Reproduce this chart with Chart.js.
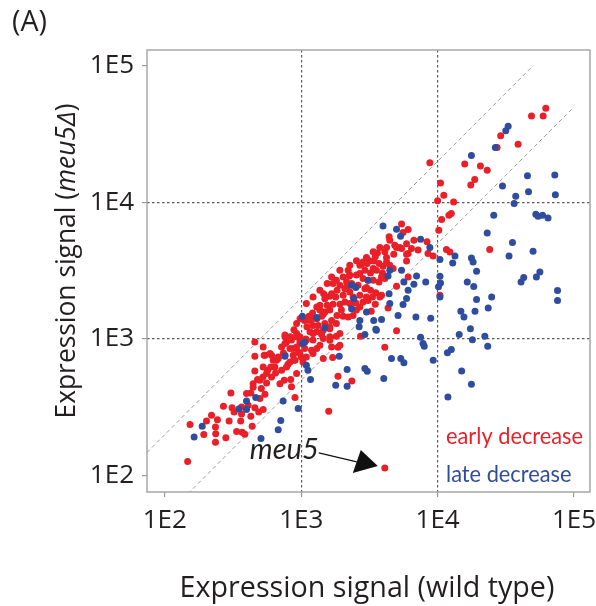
<!DOCTYPE html>
<html>
<head>
<meta charset="utf-8">
<script src="https://cdn.jsdelivr.net/npm/chart.js@4.4.0/dist/chart.umd.min.js"></script>
<style>
  html, body { margin: 0; padding: 0; background: #fff; }
  #wrap { width: 596px; height: 606px; position: relative; }
</style>
</head>
<body>
<div id="wrap"><canvas id="scatterChart"></canvas></div>
<script>
  // expression signal pairs: [wild type, meu5 delta]
  const earlyDecrease = [
    [147,127],[153,237],[202,251],[220,277],[193,200],[243,257],[236,203],[235,176],[280,190],[296,251],
    [305,403],[269,322],[311,315],[322,293],[336,211],[369,208],[386,201],[360,251],[365,283],[427,272],
    [437,230],[457,315],[488,293],[526,305],[427,403],[444,472],[498,367],[542,394],[510,434],[478,506],
    [524,528],[557,477],[457,585],[567,592],[606,528],[598,624],[648,565],[698,472],[718,592],[750,500],
    [837,506],[800,654],[678,720],[606,763],[535,763],[457,750],[526,876],[457,952],[718,876],[760,927],
    [848,983],[874,854],[925,1100],[977,952],[950,805],[900,700],[1000,740],[848,447],[235,227],[365,318],
    [408,328],[542,763],
    [1590,296],[1860,535],[2350,494],[4100,870],[1860,870],[1450,720],[1700,734],[2720,1050],[5000,1150],[900,373],
    [780,952],[827,854],[925,876],[1005,927],[1060,854],[977,785],[874,763],[760,763],[678,740],[623,700],
    [590,785],[526,624],[641,624],[827,680],[1030,680],[1090,740],[1190,830],[1300,854],[1370,900],[1220,983],
    [1450,1010],[1620,1040],[760,1040],[977,1040],
    [3620,4270],[4220,3960],[4770,4180],[4850,4870],[3400,3730],[3720,3580],[3980,3420],[4460,3470],[3040,3580],[2770,3530],
    [2930,3190],[3220,3050],[3560,3190],[3940,3050],[4100,2780],[3720,2620],[3370,2700],[3090,2700],[2840,2780],[2540,2940],
    [2250,2890],[2150,2620],[2340,2550],[2610,2480],[2930,2340],[3220,2280],[3520,2180],[3880,2090],[3330,2030],[3010,2030],
    [2690,2090],[2270,2210],[2090,2340],[2030,2090],[1920,2480],[1710,2550],[1830,2280],[1790,2030],[1620,2060],[1510,2030],
    [1550,1770],[1710,1800],[1920,1800],[2090,1870],[2270,1820],[2510,1840],[2690,1720],[2840,1870],[3090,1920],[1970,1630],
    [1830,1490],[2030,1470],[2210,1450],[2400,1490],[2540,1630],[1620,1630],[1490,1580],[1370,1630],[1410,1470],[1300,1410],
    [1190,1410],[1220,1260],[1330,1260],[1490,1300],[1670,1370],[1810,1300],[1620,1190],[1450,1160],[1300,1130],[1160,1130],
    [1100,1230],[1060,1370],[1140,1470],[1210,1550],[1550,2550],[1460,2150],[1080,1000],
    [8770,19500],[10500,13900],[11100,11300],[10000,10300],[13100,10100],[12600,8300],[12100,8070],[10700,7500],[10200,6260],[5440,6950],
    [6080,6350],[4410,5600],[5280,4680],[6700,5300],[6430,4610],[6080,4230],[7190,4480],[8360,5150],[8500,4230],[11600,4520],
    [12300,4340],[2690,3470],[3370,3290],[2690,3020],[2270,2940],
    [62100,48900],[48800,42900],[59400,42900],[29000,30800],[27300,25300],[38900,26700],[15800,19100],[20600,18500],[23100,17200],[18700,14700],
    [17500,13400],[24100,4520],[9270,4050],[10400,2090],[5920,3730],[6080,2850],
    [5440,4610],[5920,4180],[4100,4350],[4220,3670],[4720,3290],[3880,2850],[5000,2440],[4330,1690],[3770,2030],
    [1410,1080],[1670,875],[925,1300],[980,1410],[885,1170],[760,1070],[2840,3670],[1670,2150],[1490,1970],[1370,1770],
    [1160,1370],[1920,900],[1810,1050],
    [2030,2850],[2210,3190],[3160,3750],[3490,4000],[3010,2390],[3490,1800],[3260,1600],[1620,1230],[1220,1100],[1090,980],
    [740,790],[660,700],[557,560],[498,500],[444,445],[397,400],[780,624],[880,700],[925,560],[1220,785],
    [830,1040],[925,1040],[1920,1100],[1620,980],[1450,1520],[1300,1720],[2400,2030],[1810,2700],[2150,2390],[4220,4690],
    [5000,4690],[5920,4980],[5580,6020],[4460,5300],[3770,4690],[3370,4350],[3010,3960],[2540,3750],[2270,3470],[1920,3190],
    [1670,2850],[1370,2280],[1220,2030],[1090,1820]
  ];
  const lateDecrease = [
    [188,230],[164,192],[349,308],[397,305],[397,352],[464,373],[760,750],[1030,927],[737,352],[708,254],
    [678,217],[507,187],[950,310],[1170,506],[1790,459],[2170,451],[4030,514],[11900,377],[17700,467],[15000,585],
    [4590,720],[5370,720],[5660,670],[7500,1030],[7820,930],[7980,885],[9280,700],[11800,794],[1900,750],[2170,598],
    [2930,609],[3050,581],[1090,644],[1120,592],[2930,1080],[3560,1160],[1020,1470],[1300,1440],[1490,1210],[2340,2480],
    [2510,2390],[2430,1980],[2340,1670],[2690,1370],[3090,2700],[3010,1580],[3400,1370],[3520,1180],[3880,1390],[4460,3190],
    [4410,2150],[4460,1820],[5130,1490],[1060,950],[3980,6740],[5000,6380],[5350,5670],[7500,5370],[8770,4680],[10400,3820],
    [13400,4050],[12900,3610],[5440,3190],[4330,2890],[7010,2890],[10400,2880],[32900,36200],[31600,33500],[26500,25300],[17700,22100],
    [29900,13200],[45600,15700],[72300,15900],[46400,12000],[73000,11400],[37400,11100],[36400,9830],[25800,8070],[52500,8210],[54500,7940],
    [58800,8070],[64500,7710],[23100,5980],[35400,5090],[50100,4400],[33400,4060],[17700,3930],[18200,3660],[19300,3140],[16500,2620],
    [18400,2430],[19300,1950],[24900,2030],[23500,1690],[18800,1600],[14800,1600],[15600,1450],[42800,2820],[40900,2620],[56200,3100],
    [53000,2850],[75700,2270],[75700,1920],[10500,2570],[10150,2420],[10400,2030],[8180,2620],[6700,2520],[6080,2280],[5920,1980],
    [5580,1790],[5660,2620],[6930,1450],[8900,1420],[17400,1190],[14400,1080],[18000,990],[22200,1050],[23300,885],[12600,838],
    [2660,1230]
  ];
  const meu5Gene = [4100, 114];

  // twofold guide lines
  const upperGuide = [[74,148],[50000,100000]];
  const lowerGuide = [[148,74],[100000,50000]];

  const tickValues = [100, 1000, 10000, 100000];
  const tickLabels = ['1E2', '1E3', '1E4', '1E5'];
  const seriesNames = ['early decrease', 'late decrease'];

  const red = '#ea1f27';
  const blue = '#2f4d9e';
  const textColor = '#231f20';
  const fontFamily = '"Open Sans", "Noto Sans", sans-serif';
  const labelFamily = 'Lato, "Open Sans", sans-serif';

  const toPoints = arr => arr.map(p => ({x: p[0], y: p[1]}));

  // only the inner decades get the dotted grid
  const gridColor = ctx => {
    const v = ctx.tick ? ctx.tick.value : null;
    return (v === 1000 || v === 10000) ? '#5a5a5a' : 'rgba(0,0,0,0)';
  };

  // font size that makes text span a given width
  function fitFont(ctx, text, style, family, width) {
    ctx.font = style + ' 100px ' + family;
    const size = 100 * width / ctx.measureText(text).width;
    return style + ' ' + size.toFixed(2) + 'px ' + family;
  }

  // narrow text: keep the font size, squeeze horizontally by k
  function drawSqueezed(ctx, text, x, y, k, align) {
    ctx.save();
    ctx.translate(x, y);
    ctx.scale(k, 1);
    ctx.textAlign = align;
    ctx.fillText(text, 0, 0);
    ctx.restore();
  }

  const axisBase = {
    type: 'logarithmic',
    afterBuildTicks: s => { s.ticks = tickValues.map(v => ({value: v, major: true})); },
    ticks: {
      autoSkip: false,
      maxRotation: 0,
      color: textColor,
      font: {family: fontFamily, size: 26},
      callback: v => {
        const i = tickValues.indexOf(v);
        return i >= 0 ? tickLabels[i] : '';
      }
    },
    grid: {color: gridColor, lineWidth: 1.2, tickColor: '#9a9a9a', tickLength: 5, tickWidth: 1.2},
    border: {display: false, dash: [2.5, 2.5]}
  };

  const decor = {
    id: 'decor',
    beforeDatasetsDraw(chart) {
      const {ctx, chartArea: a} = chart;
      ctx.save();
      ctx.strokeStyle = '#a6a6a6';
      ctx.lineWidth = 1.5;
      ctx.strokeRect(a.left, a.top, a.right - a.left, a.bottom - a.top);
      ctx.restore();
    },
    afterDraw(chart) {
      const {ctx, scales: {x, y}} = chart;
      ctx.save();
      ctx.fillStyle = textColor;
      ctx.textBaseline = 'alphabetic';

      ctx.font = fitFont(ctx, '(A)', 'normal', fontFamily, 35);
      ctx.textAlign = 'left';
      ctx.fillText('(A)', 12, 31);

      // x title
      ctx.font = fitFont(ctx, 'Expression signal (wild type)', 'normal', fontFamily, 375);
      ctx.textAlign = 'center';
      ctx.fillText('Expression signal (wild type)', 367, 597);

      // y title with italic gene name
      const size = 26;
      const parts = [
        ['Expression signal (', 'normal'],
        ['meu5Δ', 'italic'],
        [')', 'normal']
      ];
      let total = 0;
      parts.forEach(p => { ctx.font = p[1] + ' ' + size + 'px ' + fontFamily; total += ctx.measureText(p[0]).width; });
      const k = 315 / total;
      ctx.translate(75, 261);
      ctx.rotate(-Math.PI / 2);
      ctx.textAlign = 'left';
      let cx = -315 / 2;
      parts.forEach(p => {
        ctx.font = p[1] + ' ' + (size * k).toFixed(2) + 'px ' + fontFamily;
        ctx.fillText(p[0], cx, 0);
        cx += ctx.measureText(p[0]).width;
      });
      ctx.setTransform(1, 0, 0, 1, 0, 0);

      // series labels, narrow like the original face
      ctx.font = '23px ' + labelFamily;
      const kLegend = 137 / ctx.measureText(seriesNames[0]).width;
      ctx.fillStyle = red;
      drawSqueezed(ctx, seriesNames[0], 446, 444, kLegend, 'left');
      ctx.fillStyle = blue;
      drawSqueezed(ctx, seriesNames[1], 446, 482, kLegend, 'left');

      // meu5 annotation pointing at its dot
      const px = x.getPixelForValue(meu5Gene[0]);
      const py = y.getPixelForValue(meu5Gene[1]);
      ctx.fillStyle = textColor;
      ctx.font = 'italic 28px ' + labelFamily;
      const kGene = 69 / ctx.measureText('meu5').width;
      drawSqueezed(ctx, 'meu5', px - 66, py - 9, kGene, 'right');
      ctx.strokeStyle = '#111';
      ctx.lineWidth = 1.2;
      ctx.beginPath();
      ctx.moveTo(px - 66, py - 15);
      ctx.lineTo(px - 28, py - 6);
      ctx.stroke();
      ctx.beginPath();
      ctx.moveTo(px - 7, py - 2);
      ctx.lineTo(px - 24, py - 18);
      ctx.lineTo(px - 32, py + 5);
      ctx.closePath();
      ctx.fillStyle = '#111';
      ctx.fill();
      ctx.restore();
    }
  };

  new Chart(document.getElementById('scatterChart'), {
    type: 'scatter',
    data: {
      datasets: [
        {
          label: seriesNames[1],
          data: toPoints(lateDecrease),
          backgroundColor: blue,
          pointRadius: 3.5,
          borderWidth: 0,
          order: 0
        },
        {
          label: seriesNames[0],
          data: toPoints(earlyDecrease.concat([meu5Gene])),
          backgroundColor: red,
          pointRadius: 3.5,
          borderWidth: 0,
          order: 1
        },
        {
          data: toPoints(upperGuide),
          showLine: true,
          borderColor: '#9c9c9c',
          borderWidth: 1,
          borderDash: [4, 3],
          pointRadius: 0,
          order: 2
        },
        {
          data: toPoints(lowerGuide),
          showLine: true,
          borderColor: '#9c9c9c',
          borderWidth: 1,
          borderDash: [4, 3],
          pointRadius: 0,
          order: 2
        }
      ]
    },
    options: {
      responsive: true,
      maintainAspectRatio: false,
      animation: false,
      devicePixelRatio: 1,
      layout: {padding: {top: 50, right: 6, left: 0, bottom: 0}},
      plugins: {legend: {display: false}, tooltip: {enabled: false}},
      scales: {
        x: Object.assign({}, axisBase, {
          position: 'bottom',
          min: 74,
          max: 131000,
          ticks: Object.assign({}, axisBase.ticks, {padding: 8}),
          afterFit: s => { s.height = 114; s.paddingLeft = 0; s.paddingRight = 0; }
        }),
        y: Object.assign({}, axisBase, {
          position: 'left',
          min: 76,
          max: 130600,
          ticks: Object.assign({}, axisBase.ticks, {padding: 8}),
          afterFit: s => { s.width = 147; s.paddingTop = 0; s.paddingBottom = 0; }
        })
      }
    },
    plugins: [decor]
  });
</script>
</body>
</html>
